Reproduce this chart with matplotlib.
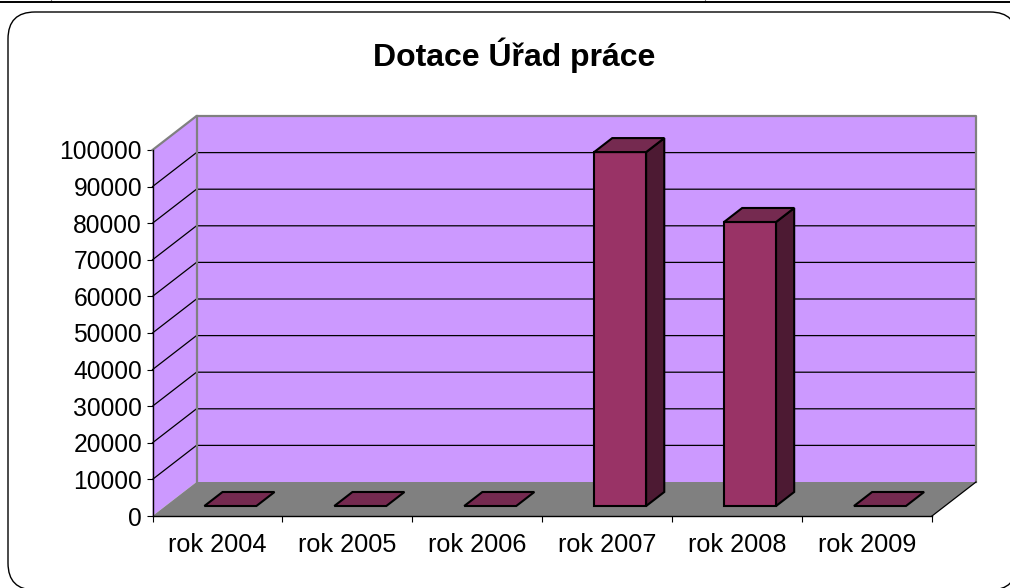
import matplotlib
matplotlib.use("Agg")
import matplotlib.pyplot as plt
from matplotlib.patches import FancyBboxPatch, Polygon

plt.rcParams["font.family"] = ["Liberation Sans", "DejaVu Sans"]

YEARS = ["rok 2004", "rok 2005", "rok 2006", "rok 2007", "rok 2008", "rok 2009"]
VALUES = [0, 0, 0, 96700, 77600, 0]
Y_TICKS = [0, 10000, 20000, 30000, 40000, 50000, 60000, 70000, 80000, 90000, 100000]
TITLE = "Dotace Úřad práce"

W, H = 1010, 588
C_WALL = "#CC99FF"
C_FLOOR = "#808080"
C_FRONT = "#993366"
C_TOP = "#752A50"
C_SIDE = "#4D1A33"

# axes box in pixels
L, R, T, B = 152.5, 932, 150, 516
# depth of the 3d box in px
DEPTH_X, DEPTH_Y = 44, 34

fig = plt.figure(figsize=(W / 100, H / 100), dpi=100, facecolor="white")

# ── frame + rule on top ──────────────────────────────────────────────────
bg = fig.add_axes([0, 0, 1, 1])
bg.set_xlim(0, W)
bg.set_ylim(H, 0)
bg.axis("off")
bg.add_patch(FancyBboxPatch((35, 39), 955, 524, boxstyle="round,pad=27,rounding_size=27",
                            fc="white", ec="black", lw=1.0, clip_on=False))
bg.plot([0, W], [1.8, 1.8], color="black", lw=1.4, solid_capstyle="butt")
bg.plot([50.5, 50.5], [0, 2], color="black", lw=0.8, solid_capstyle="butt")
bg.plot([704.5, 704.5], [0, 2], color="black", lw=0.8, solid_capstyle="butt")
bg.text(514.5, 55, TITLE, ha="center", va="center", fontsize=23, fontweight="bold")

# ── chart, in category / value units ─────────────────────────────────────
ax = fig.add_axes([L / W, 1 - B / H, (R - L) / W, (B - T) / H])
ax.patch.set_visible(False)
n = len(YEARS)
ax.set_xlim(0, n)
ax.set_ylim(0, 100000)

dx = DEPTH_X / ((R - L) / n)
dy = DEPTH_Y / ((B - T) / 100000)
ymax = Y_TICKS[-1]


def poly(points, fc, ec, lw, z):
    ax.add_patch(Polygon(points, closed=True, fc=fc, ec=ec, lw=lw, zorder=z,
                         clip_on=False, joinstyle="miter"))


# walls and floor
poly([(0, 0), (dx, dy), (dx, ymax + dy), (0, ymax)], C_WALL, "none", 0, 1)
poly([(dx, dy), (n + dx, dy), (n + dx, ymax + dy), (dx, ymax + dy)], C_WALL, "none", 0, 1)
poly([(0, 0), (n, 0), (n + dx, dy), (dx, dy)], C_FLOOR, "none", 0, 1)

# gridlines run along the left wall then the back wall
for v in Y_TICKS[1:-1]:
    ax.plot([0, dx, n + dx], [v, v + dy, v + dy], color="black", lw=0.9, zorder=2, clip_on=False)

# wall edges
ax.plot([0, dx, n + dx, n + dx], [ymax, ymax + dy, ymax + dy, dy],
        color="#808080", lw=1.6, zorder=2, clip_on=False)
ax.plot([dx, dx], [dy, ymax + dy], color="#808080", lw=1.6, zorder=2, clip_on=False)
ax.plot([n, n + dx], [0, dy], color="black", lw=0.9, zorder=2, clip_on=False)

# bars sit part-way into the floor depth
f0, f1 = 10 / DEPTH_Y, 24 / DEPTH_Y
bw = 52 / ((R - L) / n)
for i, v in enumerate(VALUES):
    x0 = i + 0.5 - bw / 2 + dx * f0
    x1 = x0 + bw
    y0 = dy * f0
    ox, oy = dx * (f1 - f0), dy * (f1 - f0)
    if v > 0:
        poly([(x0, y0), (x1, y0), (x1, y0 + v), (x0, y0 + v)], C_FRONT, "black", 1.5, 3)
        poly([(x1, y0), (x1 + ox, y0 + oy), (x1 + ox, y0 + v + oy), (x1, y0 + v)],
             C_SIDE, "black", 1.5, 3)
    poly([(x0, y0 + v), (x1, y0 + v), (x1 + ox, y0 + v + oy), (x0 + ox, y0 + v + oy)],
         C_TOP, "black", 1.5, 3)

# real axes for the ticks and labels
for s in ("top", "right"):
    ax.spines[s].set_visible(False)
for s in ("left", "bottom"):
    ax.spines[s].set_linewidth(1.0)
    ax.spines[s].set_zorder(4)
ax.set_yticks(Y_TICKS)
ax.set_xticks(range(n + 1))
ax.set_xticklabels([])
ax.set_xticks([i + 0.5 for i in range(n)], minor=True)
ax.set_xticklabels(YEARS, minor=True)
ax.tick_params(axis="y", labelsize=17.7, length=4.5, width=0.8, pad=3)
ax.tick_params(axis="x", which="major", length=4.5, width=0.8)
ax.tick_params(axis="x", which="minor", length=0, labelsize=18.2, pad=12)

fig.savefig("out.png", dpi=100, facecolor="white")
